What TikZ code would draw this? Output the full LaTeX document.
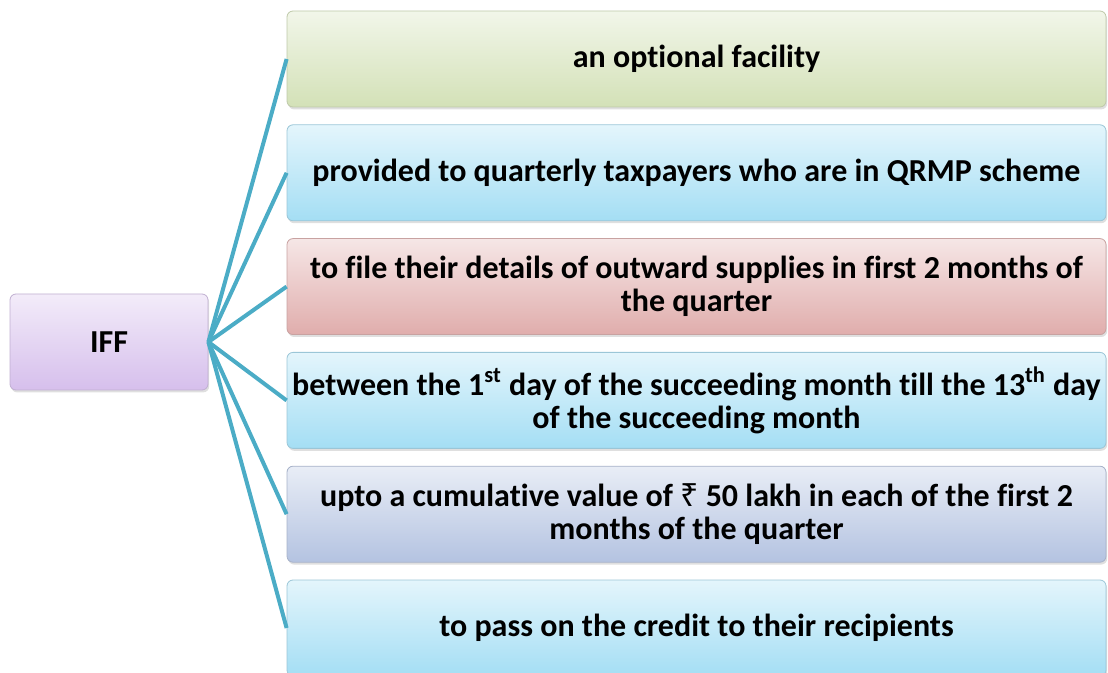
\documentclass[tikz,border=0pt]{standalone}
\usepackage{fontspec}
\setmainfont{Carlito}[Ligatures=NoCommon]
\newfontfamily\rupeefont{Noto Sans}
\usepackage{xcolor}
\definecolor{cLine}{HTML}{4BACC6}
\definecolor{cGreen}{HTML}{D3E1B7}
\definecolor{cCyan}{HTML}{A4DEF4}
\definecolor{cRose}{HTML}{E0ADAC}
\definecolor{cLav}{HTML}{B4C3E1}
\definecolor{cPurple}{HTML}{D6BFEC}
\usetikzlibrary{positioning,shadows}
\tikzset{
  node-box/.style={rounded corners=3pt,draw=#1!75!gray,line width=0.4pt,
    top color=#1!30!white,bottom color=#1,
    drop shadow={opacity=0.25,shadow xshift=0.6pt,shadow yshift=-1.2pt},
    minimum height=48pt,align=center,inner sep=1pt,
    font=\bfseries\fontsize{16}{16.5}\selectfont},
  node-item/.style={node-box=#1,minimum width=409.5pt},
  link/.style={draw=cLine,line width=2pt},
}

\begin{document}
\begin{tikzpicture}[x=0.5pt,y=-0.5pt,node distance=8.5pt]
  \useasboundingbox (0,0) rectangle (1108,673);
  \node[node-box=cPurple,minimum width=99pt] (iff) at (109,342) {IFF};
  \node[node-item=cGreen] (optional) at (696.5,59) {an optional facility};
  \node[node-item=cCyan,below=of optional] (quarterly)
    {provided to quarterly taxpayers who are in QRMP scheme};
  \node[node-item=cRose,below=of quarterly] (details)
    {to file their details of outward supplies in first 2 months of\\the quarter};
  \node[node-item=cCyan,below=of details] (period)
    {between the 1\textsuperscript{st} day of the succeeding month till the 13\textsuperscript{th} day\\of the succeeding month};
  \node[node-item=cLav,below=of period] (limit)
    {upto a cumulative value of {\rupeefont ₹} 50 lakh in each of the first 2\\months of the quarter};
  \node[node-item=cCyan,below=of limit] (credit)
    {to pass on the credit to their recipients};
  \foreach \t in {optional,quarterly,details,period,limit,credit}
    \draw[link] (iff.east) -- (\t.west);
\end{tikzpicture}
\end{document}
